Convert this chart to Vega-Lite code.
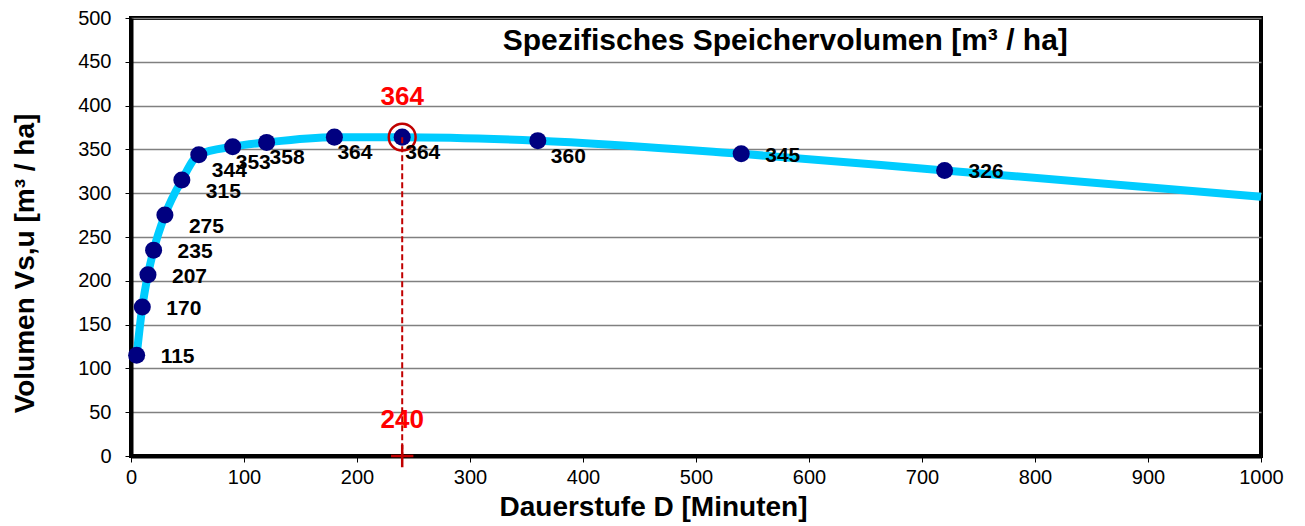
{
  "$schema": "https://vega.github.io/schema/vega-lite/v6.json",
  "width": 1130,
  "height": 438,
  "autosize": {"type": "none"},
  "padding": {"left": 131, "top": 18, "right": 44, "bottom": 70},
  "background": "white",
  "config": {
    "font": "Liberation Sans",
    "view": {"stroke": "black", "strokeWidth": 4}
  },
  "datasets": {
    "points": [
      {"D": 5, "V": 115},
      {"D": 10, "V": 170},
      {"D": 15, "V": 207},
      {"D": 20, "V": 235},
      {"D": 30, "V": 275},
      {"D": 45, "V": 315},
      {"D": 60, "V": 344},
      {"D": 90, "V": 353},
      {"D": 120, "V": 358},
      {"D": 180, "V": 364},
      {"D": 240, "V": 364},
      {"D": 360, "V": 360},
      {"D": 540, "V": 345},
      {"D": 720, "V": 326}
    ],
    "curve": [
      {"D": 5, "V": 115},
      {"D": 10, "V": 170},
      {"D": 15, "V": 207},
      {"D": 20, "V": 235},
      {"D": 30, "V": 275},
      {"D": 45, "V": 315},
      {"D": 60, "V": 344},
      {"D": 90, "V": 353},
      {"D": 120, "V": 358},
      {"D": 180, "V": 364},
      {"D": 240, "V": 364},
      {"D": 360, "V": 360},
      {"D": 540, "V": 345},
      {"D": 720, "V": 326},
      {"D": 1000, "V": 296}
    ]
  },
  "layer": [
    {
      "data": {"name": "curve"},
      "mark": {"type": "line", "color": "#00CCFF", "strokeWidth": 8, "interpolate": "monotone"},
      "encoding": {
        "x": {
          "field": "D", "type": "quantitative",
          "scale": {"domain": [0, 1000], "nice": false, "zero": false},
          "axis": {
            "values": [0, 100, 200, 300, 400, 500, 600, 700, 800, 900, 1000],
            "format": "d",
            "labelFlush": false,
            "labelOverlap": false,
            "grid": false,
            "domain": true, "domainColor": "black", "domainWidth": 4,
            "ticks": true, "tickSize": 6, "tickColor": "black", "tickWidth": 1,
            "labelFontSize": 20, "labelColor": "black", "labelPadding": 5,
            "labelFont": "Liberation Sans",
            "title": "Dauerstufe D [Minuten]",
            "titleFontSize": 28, "titleFontWeight": "bold", "titleColor": "black",
            "titleX": 522, "titleY": 51, "titleBaseline": "middle", "titleAlign": "center"
          }
        },
        "y": {
          "field": "V", "type": "quantitative",
          "scale": {"domain": [0, 500], "nice": false},
          "axis": {
            "values": [0, 50, 100, 150, 200, 250, 300, 350, 400, 450, 500],
            "labelFlush": false,
            "labelOverlap": false,
            "grid": true, "gridColor": "#808080", "gridWidth": 1.5,
            "domain": true, "domainColor": "black", "domainWidth": 4,
            "ticks": true, "tickSize": 6, "tickColor": "black", "tickWidth": 1,
            "labelFontSize": 20, "labelColor": "black", "labelPadding": 14,
            "labelFont": "Liberation Sans",
            "title": "Volumen Vs,u [m³ / ha]",
            "titleFontSize": 28, "titleFontWeight": "bold", "titleColor": "black",
            "titleX": -106, "titleY": 245, "titleBaseline": "middle", "titleAlign": "center", "titleAngle": -90
          }
        }
      }
    },
    {
      "data": {"name": "points"},
      "mark": {"type": "point", "shape": "circle", "filled": true, "color": "#000080", "opacity": 1, "size": 290},
      "encoding": {
        "x": {"field": "D", "type": "quantitative"},
        "y": {"field": "V", "type": "quantitative"}
      }
    },
    {
      "data": {"name": "points"},
      "transform": [{"filter": "datum.D == 240"}],
      "mark": {"type": "rule", "color": "#C00000", "strokeWidth": 2, "strokeDash": [6, 3]},
      "encoding": {
        "x": {"field": "D", "type": "quantitative"},
        "y": {"field": "V", "type": "quantitative"},
        "y2": {"datum": 0}
      }
    },
    {
      "data": {"name": "points"},
      "transform": [{"filter": "datum.D == 240"}],
      "mark": {"type": "point", "shape": "circle", "filled": false, "stroke": "#C00000", "strokeWidth": 2.5, "opacity": 1, "size": 720},
      "encoding": {
        "x": {"field": "D", "type": "quantitative"},
        "y": {"field": "V", "type": "quantitative"}
      }
    },
    {
      "data": {"name": "points"},
      "transform": [{"filter": "datum.D == 240"}],
      "mark": {"type": "point", "shape": "M -1 0 L 1 0 M 0 -1 L 0 1", "filled": false, "stroke": "#C00000", "strokeWidth": 2.5, "opacity": 1, "size": 500},
      "encoding": {
        "x": {"field": "D", "type": "quantitative"},
        "y": {"datum": 0}
      }
    },
    {
      "data": {"name": "points"},
      "transform": [{"filter": "datum.D <= 20 || datum.D >= 540"}],
      "mark": {"type": "text", "align": "left", "baseline": "middle", "dx": 24, "dy": 2, "fontSize": 21, "fontWeight": "bold", "color": "black"},
      "encoding": {
        "x": {"field": "D", "type": "quantitative"},
        "y": {"field": "V", "type": "quantitative"},
        "text": {"field": "V", "type": "quantitative"}
      }
    },
    {
      "data": {"name": "points"},
      "transform": [{"filter": "datum.D == 30 || datum.D == 45"}],
      "mark": {"type": "text", "align": "left", "baseline": "middle", "dx": 24, "dy": 12, "fontSize": 21, "fontWeight": "bold", "color": "black"},
      "encoding": {
        "x": {"field": "D", "type": "quantitative"},
        "y": {"field": "V", "type": "quantitative"},
        "text": {"field": "V", "type": "quantitative"}
      }
    },
    {
      "data": {"name": "points"},
      "transform": [{"filter": "datum.D == 60 || datum.D == 360"}],
      "mark": {"type": "text", "align": "left", "baseline": "middle", "dx": 13, "dy": 16, "fontSize": 21, "fontWeight": "bold", "color": "black"},
      "encoding": {
        "x": {"field": "D", "type": "quantitative"},
        "y": {"field": "V", "type": "quantitative"},
        "text": {"field": "V", "type": "quantitative"}
      }
    },
    {
      "data": {"name": "points"},
      "transform": [{"filter": "datum.D >= 90 && datum.D <= 240"}],
      "mark": {"type": "text", "align": "left", "baseline": "middle", "dx": 3, "dy": 16, "fontSize": 21, "fontWeight": "bold", "color": "black"},
      "encoding": {
        "x": {"field": "D", "type": "quantitative"},
        "y": {"field": "V", "type": "quantitative"},
        "text": {"field": "V", "type": "quantitative"}
      }
    },
    {
      "data": {"name": "points"},
      "transform": [{"filter": "datum.D == 240"}],
      "mark": {"type": "text", "align": "center", "baseline": "middle", "dy": -40, "fontSize": 26, "fontWeight": "bold", "color": "#FF0000"},
      "encoding": {
        "x": {"field": "D", "type": "quantitative"},
        "y": {"field": "V", "type": "quantitative"},
        "text": {"field": "V", "type": "quantitative"}
      }
    },
    {
      "data": {"name": "points"},
      "transform": [{"filter": "datum.D == 240"}],
      "mark": {"type": "text", "align": "center", "baseline": "middle", "dy": -36, "fontSize": 26, "fontWeight": "bold", "color": "#FF0000"},
      "encoding": {
        "x": {"field": "D", "type": "quantitative"},
        "y": {"datum": 0},
        "text": {"field": "D", "type": "quantitative"}
      }
    },
    {
      "data": {"values": [{"label": "Spezifisches Speichervolumen [m³ / ha]"}]},
      "mark": {"type": "text", "align": "center", "baseline": "middle", "fontSize": 30, "fontWeight": "bold", "color": "black"},
      "encoding": {
        "x": {"datum": 579},
        "y": {"datum": 474},
        "text": {"field": "label", "type": "nominal"}
      }
    }
  ]
}
